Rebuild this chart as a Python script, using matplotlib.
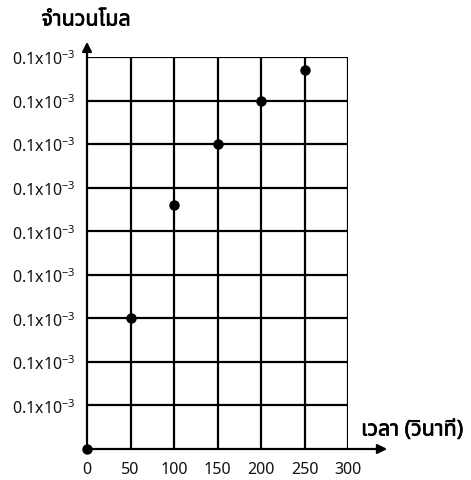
import matplotlib.pyplot as plt
import matplotlib.patheffects as pe

plt.rcParams['font.family'] = ['Noto Sans Thai', 'Noto Sans', 'DejaVu Sans']
plt.rcParams['mathtext.fontset'] = 'custom'
plt.rcParams['mathtext.rm'] = 'Noto Sans'

time_s = [0, 50, 100, 150, 200, 250]
moles = [0, 3, 5.6, 7, 8, 8.7]   # in grid units
y_ticks = list(range(1, 10))
y_labels = [r'0.1x10$^{\mathrm{-3}}$'] * 9
x_ticks = [0, 50, 100, 150, 200, 250, 300]

fig = plt.figure(figsize=(4.71, 4.81), dpi=100)
ax = fig.add_axes([87/471, 1 - 450/481, 261/471, 392/481])
ax.set_xlim(0, 300)
ax.set_ylim(0, 9)
for s in ax.spines.values():
    s.set_visible(False)

for x in x_ticks[1:]:
    ax.axvline(x, color='black', lw=1.6)
for y in y_ticks:
    ax.axhline(y, color='black', lw=1.6)

# axes with arrows
ax.annotate('', xy=(390/471, 31/481), xytext=(87/471, 31/481),
            xycoords='figure fraction', textcoords='figure fraction',
            arrowprops=dict(arrowstyle='-|>', color='black', lw=1.6, mutation_scale=14))
ax.annotate('', xy=(87/471, 1 - 40/481), xytext=(87/471, 31/481),
            xycoords='figure fraction', textcoords='figure fraction',
            arrowprops=dict(arrowstyle='-|>', color='black', lw=1.6, mutation_scale=14))

ax.plot(time_s, moles, 'o', color='black', ms=6.5, clip_on=False, zorder=5)

ax.set_xticks(x_ticks)
ax.set_xticklabels([str(v) for v in x_ticks], fontsize=11.5)
ax.set_yticks(y_ticks)
ax.set_yticklabels(y_labels, fontsize=11.5)
ax.tick_params(length=0, pad=9, colors='#111111')
ax.tick_params(axis='y', pad=8)

bold = [pe.withStroke(linewidth=0.5, foreground='black')]
fig.text(86/471, 1 - 21/481, 'จำนวนโมล', fontsize=15.5, ha='center', va='center',
         path_effects=bold)
fig.text(412/471, 1 - 431/481, 'เวลา (วินาที)', fontsize=15.5, ha='center', va='center',
         path_effects=bold)

fig.savefig('out.png', dpi=100)
